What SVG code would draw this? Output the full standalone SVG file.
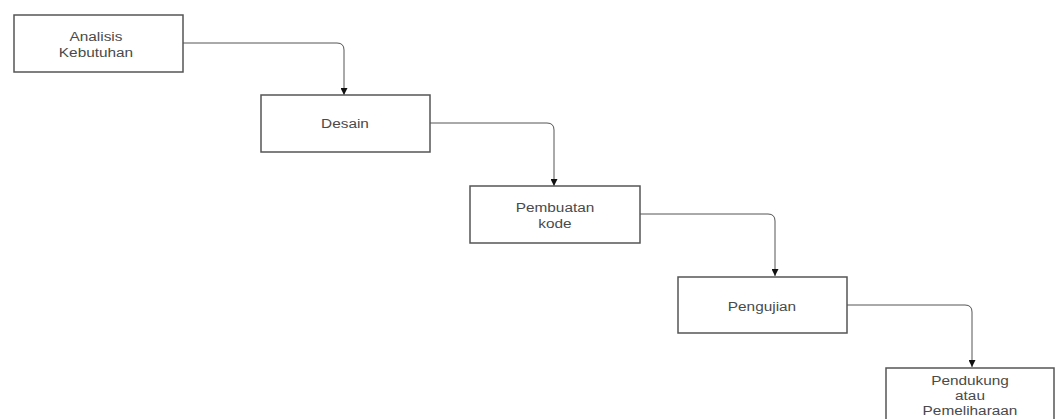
<svg xmlns="http://www.w3.org/2000/svg" width="1057" height="419" viewBox="0 0 1057 419">
<defs>
<style>
.box{fill:#fff;stroke:#555;stroke-width:1.5}
.lbl{font-family:"Liberation Sans",Arial,sans-serif;font-size:12.5px;fill:#4a4a4a;text-anchor:middle}
.edge{fill:none;stroke:#555;stroke-width:1}
</style>
<marker id="arr" viewBox="0 0 10 10" refX="10" refY="5" markerWidth="7" markerHeight="7" orient="auto" markerUnits="userSpaceOnUse">
<path d="M0,0 L10,5 L0,10 z" fill="#111"/>
</marker>
</defs>
<rect width="1057" height="419" fill="#fff"/>
<g id="connectors">
<path class="edge" d="M183,43 H337 Q344,43 344,50 V95" marker-end="url(#arr)"/>
<path class="edge" d="M430,123 H547 Q554,123 554,130 V186" marker-end="url(#arr)"/>
<path class="edge" d="M640,214 H768 Q775,214 775,221 V276" marker-end="url(#arr)"/>
<path class="edge" d="M847,305 H965 Q972,305 972,312 V367" marker-end="url(#arr)"/>
</g>
<g id="n1"><rect class="box" x="14" y="15" width="169" height="57"/>
<g transform="matrix(1.23 0 0 1 96 0)"><text class="lbl" x="0" y="41">Analisis</text><text class="lbl" x="0" y="57">Kebutuhan</text></g></g>
<g id="n2"><rect class="box" x="261" y="95" width="169" height="57"/>
<g transform="matrix(1.23 0 0 1 345 0)"><text class="lbl" x="0" y="128">Desain</text></g></g>
<g id="n3"><rect class="box" x="470" y="186" width="170" height="57"/>
<g transform="matrix(1.23 0 0 1 555 0)"><text class="lbl" x="0" y="212">Pembuatan</text><text class="lbl" x="0" y="228">kode</text></g></g>
<g id="n4"><rect class="box" x="678" y="277" width="169" height="56"/>
<g transform="matrix(1.23 0 0 1 762 0)"><text class="lbl" x="0" y="311">Pengujian</text></g></g>
<g id="n5"><rect class="box" x="886" y="368" width="168" height="60"/>
<g transform="matrix(1.23 0 0 1 970 0)"><text class="lbl" x="0" y="385">Pendukung</text><text class="lbl" x="0" y="400">atau</text><text class="lbl" x="0" y="415">Pemeliharaan</text></g></g>
</svg>
